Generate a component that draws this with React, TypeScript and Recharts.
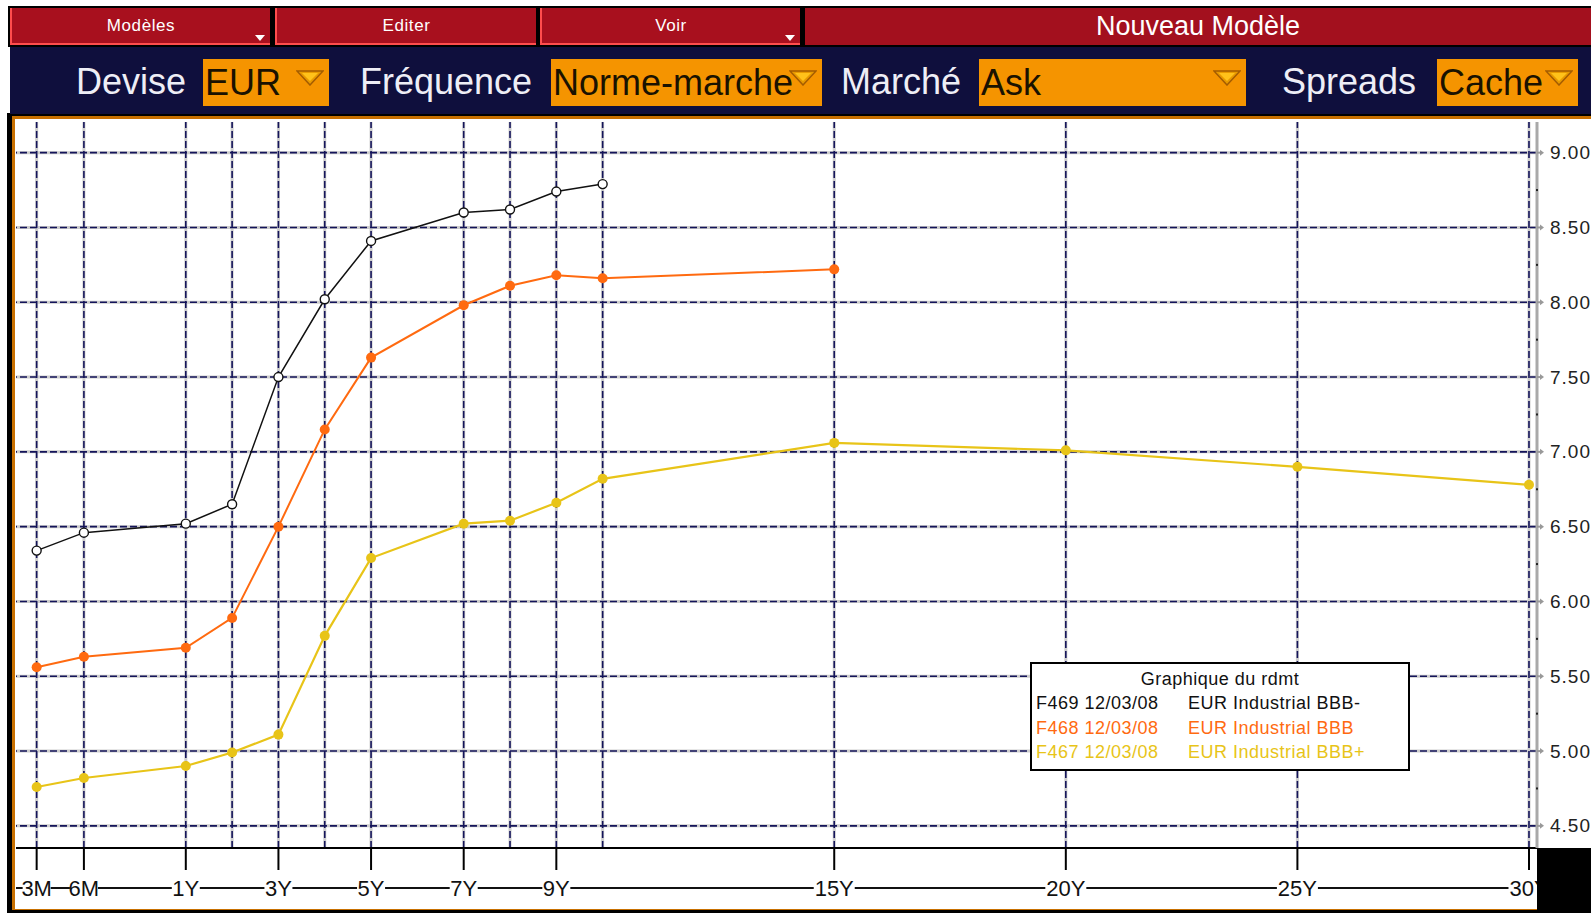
import { LineChart, Line, XAxis, YAxis, ReferenceLine } from 'recharts'

// tenor grid of the curve screen
const tenors = ['3M', '6M', '1Y', '2Y', '3Y', '4Y', '5Y', '7Y', '8Y', '9Y', '10Y', '15Y', '20Y', '25Y', '30Y']
const tenorYears = [0.25, 0.5, 1, 2, 3, 4, 5, 7, 8, 9, 10, 15, 20, 25, 30]

// yields (%), 12/03/08
const f469 = [6.34, 6.46, 6.52, 6.65, 7.5, 8.02, 8.41, 8.6, 8.62, 8.74, 8.79, null, null, null, null]
const f468 = [5.56, 5.63, 5.69, 5.89, 6.5, 7.15, 7.63, 7.98, 8.11, 8.18, 8.16, 8.22, null, null, null]
const f467 = [4.76, 4.82, 4.9, 4.99, 5.11, 5.77, 6.29, 6.52, 6.54, 6.66, 6.82, 7.06, 7.01, 6.9, 6.78]

const xTickTenors = [0.25, 0.5, 1, 3, 5, 7, 9, 15, 20, 25, 30]
const xTickLabels = ['3M', '6M', '1Y', '3Y', '5Y', '7Y', '9Y', '15Y', '20Y', '25Y', '30Y']
const yGrid = [4.5, 5, 5.5, 6, 6.5, 7, 7.5, 8, 8.5, 9]
const yTicks = [4.5, 4.75, 5, 5.25, 5.5, 5.75, 6, 6.25, 6.5, 6.75, 7, 7.25, 7.5, 7.75, 8, 8.25, 8.5, 8.75, 9]

const series = [
  { key: 'f469', code: 'F469', date: '12/03/08', name: 'EUR Industrial BBB-', color: '#111111' },
  { key: 'f468', code: 'F468', date: '12/03/08', name: 'EUR Industrial BBB', color: '#ff6a10' },
  { key: 'f467', code: 'F467', date: '12/03/08', name: 'EUR Industrial BBB+', color: '#e8c418' },
]

// the money-market end is stretched on the terminal's axis, linear in years from 1Y on
const shortEnd: [number, number][] = [[0.25, -2.22], [0.5, -1.2], [1, 1]]
function axisPos(t: number) {
  if (t >= 1) return t
  for (let i = 1; i < shortEnd.length; i++) {
    const [t0, p0] = shortEnd[i - 1]
    const [t1, p1] = shortEnd[i]
    if (t <= t1) return p0 + ((t - t0) * (p1 - p0)) / (t1 - t0)
  }
  return shortEnd[0][1]
}

const data = tenors.map((label, i) => ({
  label,
  pos: axisPos(tenorYears[i]),
  f469: f469[i],
  f468: f468[i],
  f467: f467[i],
}))

const FONT = "'Liberation Sans', Arial, sans-serif"
const NAVY = '#14145a'

const XTick = ({ x, y, payload }: any) => {
  const idx = xTickTenors.findIndex((t) => Math.abs(axisPos(t) - payload.value) < 1e-6)
  const label = idx >= 0 ? xTickLabels[idx] : ''
  const w = label.length * 13 + 2
  return (
    <g>
      <line x1={x} y1={y} x2={x} y2={y + 22} stroke="#000" strokeWidth={2} />
      <rect x={x - w / 2} y={y + 29} width={w} height={22} fill="#fff" />
      <text x={x} y={y + 40} textAnchor="middle" dominantBaseline="central" fontSize={22} fontFamily={FONT} fill="#111">
        {label}
      </text>
    </g>
  )
}

const YTick = ({ x, y, payload }: any) => {
  const v = payload.value
  const major = Math.abs(v * 2 - Math.round(v * 2)) < 1e-6
  if (!major) return <rect x={x - 1} y={y - 1} width={2} height={2} fill="#222" />
  return (
    <g>
      <line x1={x} y1={y} x2={x + 5} y2={y} stroke="#999" strokeWidth={2} />
      <path d={`M${x + 3} ${y - 3} l4 3 l-4 3z`} fill="#999" />
      <text x={x + 13} y={y} dominantBaseline="central" fontSize={19} letterSpacing={1} fontFamily={FONT} fill="#222">
        {v.toFixed(2)}
      </text>
    </g>
  )
}

const OpenDot = ({ cx, cy }: any) =>
  cx == null || cy == null ? null : <circle cx={cx} cy={cy} r={4.5} fill="#fff" stroke="#111" strokeWidth={1.4} />

const Arrow = ({ left }: { left: number }) => (
  <svg style={{ position: 'absolute', left, top: 11 }} width={28} height={16}>
    <polygon points="1,1 27,1 14,15" fill="#e89a00" stroke="#a45c00" strokeWidth={1.5} />
    <polygon points="6,3 22,3 14,11" fill="#ffc21a" />
  </svg>
)

const abs = (left: number, top: number, width: number, height: number, extra: any = {}) => ({
  position: 'absolute' as const,
  left,
  top,
  width,
  height,
  ...extra,
})

function MenuButton({ left, width, label, arrow }: { left: number; width: number; label: string; arrow?: boolean }) {
  return (
    <div
      style={abs(left, 8, width, 37, {
        background: '#a8101e',
        borderLeft: '2px solid #ff4d4d',
        borderBottom: '2px solid #ff4d4d',
        boxSizing: 'border-box',
        color: '#fff',
        fontFamily: FONT,
        fontSize: 17,
        letterSpacing: 0.6,
        lineHeight: '35px',
        textAlign: 'center',
      })}
    >
      {label}
      {arrow && (
        <svg style={{ position: 'absolute', right: 5, top: 27 }} width={10} height={7}>
          <polygon points="0,0 10,0 5,6" fill="#fff" />
        </svg>
      )}
    </div>
  )
}

const labelStyle = (left: number) =>
  abs(left, 58, 200, 47, { color: '#eeeef6', fontFamily: FONT, fontSize: 36, lineHeight: '47px', whiteSpace: 'nowrap' })

function Combo({ left, width, text }: { left: number; width: number; text: string }) {
  return (
    <div
      style={abs(left, 59, width, 47, {
        background: '#f59400',
        color: '#1a1200',
        fontFamily: FONT,
        fontSize: 36,
        lineHeight: '47px',
        paddingLeft: 2,
        boxSizing: 'border-box',
        overflow: 'hidden',
        whiteSpace: 'nowrap',
      })}
    >
      {text}
      <Arrow left={width - 33} />
    </div>
  )
}

export default function App() {
  return (
    <div style={abs(0, 0, 1591, 913, { background: '#fff', overflow: 'hidden' })}>
      {/* chart frame */}
      <div style={abs(7, 113, 1584, 800, { background: '#000' })} />
      <div style={abs(12, 116, 1579, 794, { background: '#c87000' })} />
      <div style={abs(15, 119, 1576, 790, { background: '#fff' })} />
      {/* line running through the x labels */}
      <div style={abs(16, 887, 1521, 2, { background: '#111' })} />

      <div style={abs(0, 118, 1591, 795)}>
        <LineChart width={1591} height={795} data={data} margin={{ top: 4, right: 0, bottom: 0, left: 16 }}>
          <XAxis
            dataKey="pos"
            type="number"
            domain={[-2.666, 30.173]}
            ticks={xTickTenors.map(axisPos)}
            allowDataOverflow
            height={65}
            tickSize={0}
            tickMargin={0}
            tick={<XTick />}
            axisLine={{ stroke: '#000', strokeWidth: 2 }}
            tickLine={false}
          />
          <YAxis
            orientation="right"
            type="number"
            domain={[4.352, 9.205]}
            ticks={yTicks}
            allowDataOverflow
            width={54}
            tickSize={0}
            tickMargin={0}
            tick={<YTick />}
            axisLine={{ stroke: '#a9a9a9', strokeWidth: 3 }}
            tickLine={false}
            interval={0}
          />
          {yGrid.map((v) => (
            <ReferenceLine key={`hg${v}`} y={v} stroke="#cdcdcd" strokeWidth={3} />
          ))}
          {tenorYears.map((t) => (
            <ReferenceLine key={`vg${t}`} x={axisPos(t)} stroke="#cdcdcd" strokeWidth={3} />
          ))}
          {yGrid.map((v) => (
            <ReferenceLine key={`hd${v}`} y={v} stroke={NAVY} strokeWidth={1.6} strokeDasharray="7 3" />
          ))}
          {tenorYears.map((t) => (
            <ReferenceLine key={`vd${t}`} x={axisPos(t)} stroke={NAVY} strokeWidth={1.6} strokeDasharray="7 3" />
          ))}
          <Line
            dataKey="f467"
            stroke={series[2].color}
            strokeWidth={2.2}
            dot={{ r: 5, fill: series[2].color, stroke: series[2].color, strokeWidth: 0 }}
            isAnimationActive={false}
          />
          <Line
            dataKey="f468"
            stroke={series[1].color}
            strokeWidth={2}
            dot={{ r: 5, fill: series[1].color, stroke: series[1].color, strokeWidth: 0 }}
            isAnimationActive={false}
          />
          <Line dataKey="f469" stroke={series[0].color} strokeWidth={1.5} dot={<OpenDot />} isAnimationActive={false} />
        </LineChart>
      </div>

      {/* corner block under the value axis */}
      <div style={abs(1537, 848, 54, 65, { background: '#000' })} />

      {/* legend box */}
      <div
        style={abs(1030, 662, 380, 109, {
          background: '#fff',
          border: '2px solid #000',
          boxSizing: 'border-box',
          fontFamily: FONT,
          fontSize: 18,
          letterSpacing: 0.5,
          paddingTop: 3,
          paddingLeft: 4,
        })}
      >
        <div style={{ textAlign: 'center', lineHeight: '24px', color: '#111', paddingRight: 4 }}>Graphique du rdmt</div>
        {series.map((s) => (
          <div key={s.key} style={{ display: 'flex', lineHeight: '24.5px', color: s.color, whiteSpace: 'nowrap' }}>
            <span style={{ width: 152 }}>
              {s.code} {s.date}
            </span>
            <span>{s.name}</span>
          </div>
        ))}
      </div>

      {/* menu bar */}
      <div style={abs(8, 6, 1583, 41, { background: '#000' })} />
      <MenuButton left={10} width={260} label="Modèles" arrow />
      <MenuButton left={275} width={261} label="Editer" />
      <MenuButton left={540} width={260} label="Voir" arrow />
      <div
        style={abs(805, 8, 786, 37, {
          background: '#a3101e',
          color: '#fff',
          fontFamily: FONT,
          fontSize: 27,
          lineHeight: '37px',
          textAlign: 'center',
        })}
      >
        Nouveau Modèle
      </div>

      {/* selector bar */}
      <div style={abs(10, 47, 1581, 67, { background: '#0f0f3d' })} />
      <div style={labelStyle(76)}>Devise</div>
      <Combo left={203} width={126} text="EUR" />
      <div style={labelStyle(360)}>Fréquence</div>
      <Combo left={551} width={271} text="Norme-marche" />
      <div style={labelStyle(841)}>Marché</div>
      <Combo left={979} width={267} text="Ask" />
      <div style={labelStyle(1282)}>Spreads</div>
      <Combo left={1437} width={141} text="Cache" />
    </div>
  )
}
